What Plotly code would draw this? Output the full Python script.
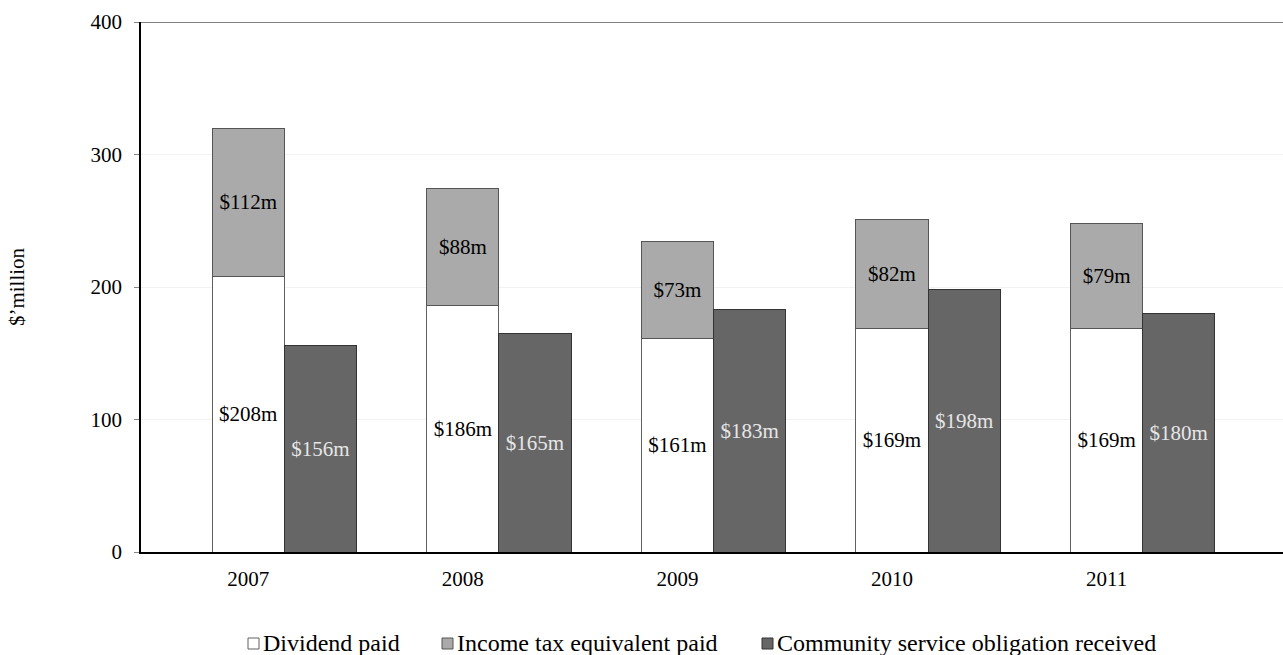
import plotly.graph_objects as go

years = ["2007", "2008", "2009", "2010", "2011"]
dividend_paid = [208, 186, 161, 169, 169]
income_tax_paid = [112, 88, 73, 82, 79]
cso_received = [156, 165, 183, 198, 180]

series_names = ["Dividend paid", "Income tax equivalent paid",
                "Community service obligation received"]
fills = ["#ffffff", "#aaaaaa", "#666666"]
edges = ["#606060", "#555555", "#333333"]

FONT = "Liberation Serif, Times New Roman, serif"
LABEL_SIZE = 21
LEGEND_SIZE = 24
BAR_W = 0.336
pos = list(range(len(years)))
pos_cso = [p + BAR_W for p in pos]


def labels(vals):
    return [f"${v}m" for v in vals]


fig = go.Figure()
fig.add_trace(go.Bar(
    name=series_names[0], x=pos, y=dividend_paid, width=BAR_W,
    marker=dict(color=fills[0], line=dict(color=edges[0], width=1)),
    text=labels(dividend_paid), textposition="inside", insidetextanchor="middle",
    textangle=0, textfont=dict(color="#000000", size=LABEL_SIZE, family=FONT),
))
fig.add_trace(go.Bar(
    name=series_names[1], x=pos, y=income_tax_paid, width=BAR_W,
    marker=dict(color=fills[1], line=dict(color=edges[1], width=1)),
    text=labels(income_tax_paid), textposition="inside", insidetextanchor="middle",
    textangle=0, textfont=dict(color="#000000", size=LABEL_SIZE, family=FONT),
))
fig.add_trace(go.Bar(
    name=series_names[2], x=pos_cso, y=cso_received, width=BAR_W,
    marker=dict(color=fills[2], line=dict(color=edges[2], width=1)),
    text=labels(cso_received), textposition="inside", insidetextanchor="middle",
    textangle=0, textfont=dict(color="#e6e6e6", size=LABEL_SIZE, family=FONT),
))

# Legend row below the plot: small square swatch followed by its label
PLOT_L, PLOT_R, PLOT_T, PLOT_B = 141, 1283, 22, 552
pw, ph = PLOT_R - PLOT_L, PLOT_B - PLOT_T


def px_x(v):
    return (v - PLOT_L) / pw


def px_y(v):
    return (PLOT_B - v) / ph


swatch_left = [248, 442, 762]
SW = 11
sw_top = 638
shapes = [dict(
    type="line", xref="paper", yref="y", x0=0, x1=1, y0=400, y1=400,
    line=dict(color="#808080", width=2), layer="above",
)]
annotations = []
for name, fill, edge, left in zip(series_names, fills, edges, swatch_left):
    shapes.append(dict(
        type="rect", xref="paper", yref="paper",
        x0=px_x(left), x1=px_x(left + SW), y0=px_y(sw_top + SW), y1=px_y(sw_top),
        fillcolor=fill, line=dict(color=edge, width=1),
    ))
    annotations.append(dict(
        text=name, xref="paper", yref="paper", x=px_x(left + SW + 2), y=px_y(643),
        xanchor="left", yanchor="middle", showarrow=False,
        font=dict(size=LEGEND_SIZE, family=FONT, color="#000000"),
    ))

fig.update_layout(
    width=1283, height=655,
    margin=dict(l=PLOT_L, r=1283 - PLOT_R, t=PLOT_T, b=655 - PLOT_B),
    barmode="stack",
    plot_bgcolor="#ffffff", paper_bgcolor="#ffffff",
    font=dict(family=FONT, size=LABEL_SIZE, color="#000000"),
    showlegend=False,
    xaxis=dict(
        range=[-0.5, 4.822], tickmode="array", tickvals=pos, ticktext=years,
        showgrid=False, zeroline=False, showline=True, linecolor="#000000",
        linewidth=2, ticks="", ticklabelstandoff=7,
    ),
    yaxis=dict(
        range=[0, 400], tickvals=[0, 100, 200, 300, 400],
        showgrid=True, gridcolor="#f2f2f2", gridwidth=1,
        zeroline=False, showline=True, linecolor="#000000", linewidth=1.5,
        ticks="outside", ticklen=5, tickcolor="#888888", ticklabelstandoff=8,
        title=dict(text="$\u2019million", standoff=60,
                   font=dict(size=LABEL_SIZE, family=FONT)),
    ),
    shapes=shapes,
    annotations=annotations,
)

fig.write_html("out.html")
